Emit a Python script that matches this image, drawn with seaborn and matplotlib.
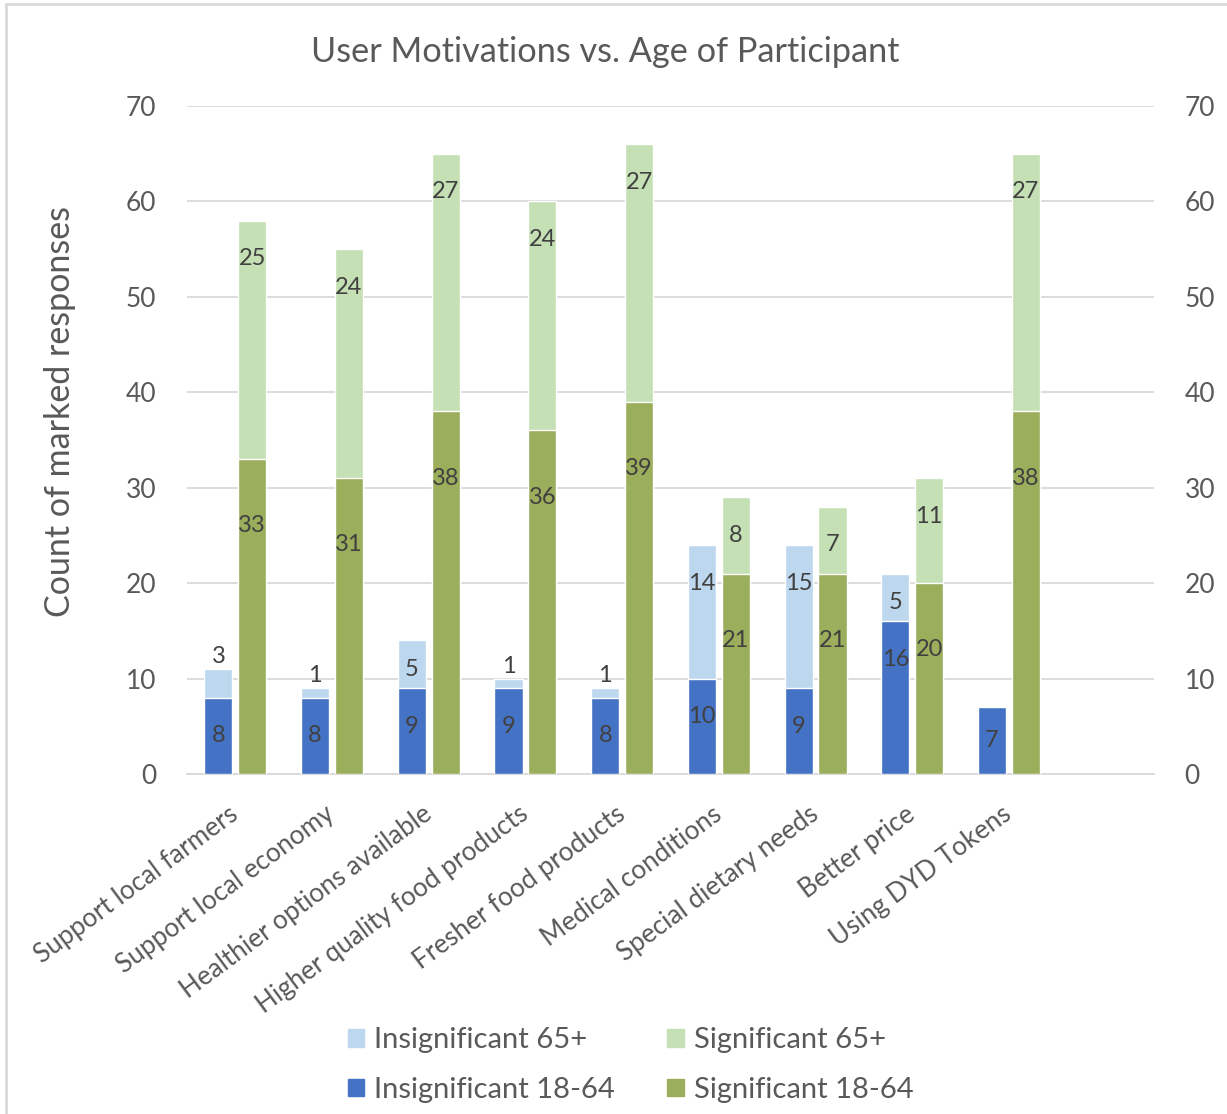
import numpy as np
import pandas as pd
import seaborn as sns
import matplotlib.pyplot as plt
from matplotlib.patches import Patch
from matplotlib.lines import Line2D

categories = ["Support local farmers", "Support local economy", "Healthier options available",
              "Higher quality food products", "Fresher food products", "Medical conditions",
              "Special dietary needs", "Better price", "Using DYD Tokens"]
insig_18_64 = [8, 8, 9, 9, 8, 10, 9, 16, 7]
insig_65 = [3, 1, 5, 1, 1, 14, 15, 5, 0]
sig_18_64 = [33, 31, 38, 36, 39, 21, 21, 20, 38]
sig_65 = [25, 24, 27, 24, 27, 8, 7, 11, 27]
y_ticks = [0, 10, 20, 30, 40, 50, 60, 70]

c_ins18 = "#4472C4"
c_ins65 = "#BDD7EE"
c_sig18 = "#9AAE5C"
c_sig65 = "#C5E0B4"
txt = "#595959"
grid = "#D9D9D9"

sns.set_style("white")
plt.rcParams["font.family"] = ["Lato", "DejaVu Sans"]

# totals drawn first, the 18-64 part drawn on top -> stacked look
top = pd.DataFrame({
    "cat": categories * 2,
    "grp": ["Insignificant"] * 9 + ["Significant"] * 9,
    "val": list(np.add(insig_18_64, insig_65)) + list(np.add(sig_18_64, sig_65)),
})
base = pd.DataFrame({
    "cat": categories * 2,
    "grp": ["Insignificant"] * 9 + ["Significant"] * 9,
    "val": insig_18_64 + sig_18_64,
})

fig = plt.figure(figsize=(12.27, 11.14), dpi=100)
ax = fig.add_axes([187 / 1227, 1 - 774 / 1114, 967 / 1227, 668 / 1114])

for y in y_ticks:
    ax.axhline(y, color=grid, lw=1.3, zorder=0)

sns.barplot(data=top, x="cat", y="val", hue="grp", order=categories,
            palette=[c_ins65, c_sig65], width=0.7, gap=0.17, saturation=1,
            legend=False, ax=ax, zorder=2)
sns.barplot(data=base, x="cat", y="val", hue="grp", order=categories,
            palette=[c_ins18, c_sig18], width=0.7, gap=0.17, saturation=1,
            legend=False, ax=ax, zorder=3)

ax.set_xlim(-0.5, 9.5)
ax.set_ylim(0, 70)
ax.set_yticks(y_ticks)
ax.set_xlabel("")
ax.set_ylabel("Count of marked responses", fontsize=24.5, color=txt)
ax.yaxis.set_label_coords(-0.115, 0.543)
ax.set_xticks(range(len(categories)))
ax.set_xticklabels(categories, rotation=36.5, ha="right", va="center",
                   rotation_mode="anchor")
ax.tick_params(axis="x", length=0, pad=27, labelsize=18.8, labelcolor=txt)
ax.tick_params(axis="y", length=0, pad=22, labelsize=19, labelcolor=txt)
for s in ["top", "left", "right"]:
    ax.spines[s].set_visible(False)
ax.spines["bottom"].set_color(grid)
ax.spines["bottom"].set_linewidth(1.3)

ax2 = ax.twinx()
ax2.set_ylim(0, 70)
ax2.set_yticks(y_ticks)
ax2.tick_params(axis="y", length=0, pad=22, labelsize=19, labelcolor=txt)
for s in ax2.spines.values():
    s.set_visible(False)

# data labels
lab = dict(ha="center", va="center", fontsize=17, color="#404040", zorder=5)
c_top_ins, c_top_sig, c_base_ins, c_base_sig = ax.containers[:4]
for i in range(len(categories)):
    b = c_base_ins[i]
    xi = b.get_x() + b.get_width() / 2
    v = insig_18_64[i]
    ax.text(xi, max(v - 4, v / 2), str(v), **lab)
    s = insig_65[i]
    if s > 0:
        t = v + s
        ty = t + 1.3 if s <= 3 else t - min(4, s * 0.6)
        ax.text(xi, ty, str(s), **lab)
    b = c_base_sig[i]
    xs = b.get_x() + b.get_width() / 2
    v = sig_18_64[i]
    ax.text(xs, v - 7, str(v), **lab)
    s = sig_65[i]
    ax.text(xs, v + s - 4, str(s), **lab)

fig.text(0.493, 1 - 52 / 1114, "User Motivations vs. Age of Participant",
         ha="center", va="center", fontsize=24.7, color=txt)

handles = [Patch(color=c_ins65), Patch(color=c_ins18),
           Patch(color=c_sig65), Patch(color=c_sig18)]
labels = ["Insignificant 65+", "Insignificant 18-64", "Significant 65+", "Significant 18-64"]
leg = fig.legend(handles, labels, loc="center", bbox_to_anchor=(0.514, 1 - 1065 / 1114),
                 ncol=2, frameon=False, fontsize=21, handlelength=0.55, handleheight=0.55,
                 handletextpad=0.35, columnspacing=1.8, labelspacing=0.8)
for t in leg.get_texts():
    t.set_color(txt)

# chart border (only left/top visible in the crop)
fig.add_artist(Line2D([6 / 1227, 6 / 1227], [0, 1 - 4 / 1114], transform=fig.transFigure,
                      color=grid, lw=2))
fig.add_artist(Line2D([6 / 1227, 1], [1 - 4 / 1114, 1 - 4 / 1114], transform=fig.transFigure,
                      color=grid, lw=2))

fig.savefig("out.png", dpi=100)
